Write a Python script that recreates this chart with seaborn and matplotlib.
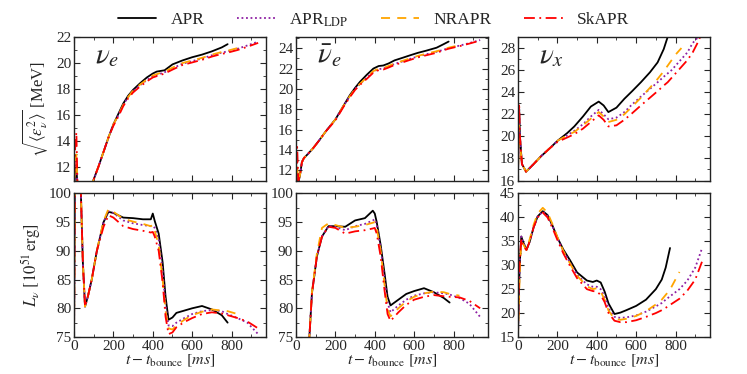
import numpy as np
import pandas as pd
import matplotlib
matplotlib.use("Agg")
import matplotlib.pyplot as plt
from matplotlib.ticker import MultipleLocator, AutoMinorLocator
import seaborn as sns

nan = np.nan
models = ["APR", "APR$_{\\mathrm{LDP}}$", "NRAPR", "SkAPR"]
colors = ["black", "#8E1FA3", "#FFA500", "#FF0000"]

# ---- top-left: nu_e rms energy ----
t_e1 = [0, 6, 12, 18, 30, 60, 98, 125, 150, 175, 200, 225, 250, 275, 300, 335, 370, 400, 420, 440,
        460, 500, 550, 600, 650, 700, 750, 780, 830, 880, 935]
e1_apr = [10, 11.8, 12.0, 10.5, 9.0, 9.5, 11.0, 12.1, 13.2, 14.3, 15.3, 16.1, 16.9, 17.5, 17.95, 18.45,
          18.9, 19.2, 19.35, 19.4, 19.45, 19.9, 20.2, 20.45, 20.65, 20.9, 21.2, 21.45, nan, nan, nan]
e1_ldp = [10, 12.0, 12.5, 10.5, 9.0, 9.5, 11.0, 12.1, 13.2, 14.3, 15.3, 16.0, 16.8, 17.4, 17.85, 18.3,
          18.7, 19.0, 19.1, 19.2, 19.3, 19.6, 19.95, 20.15, 20.35, 20.6, 20.8, 20.9, 21.1, 21.35, 21.65]
e1_nra = [10, 12.5, 13.0, 10.5, 9.0, 9.5, 11.0, 12.1, 13.2, 14.3, 15.3, 16.0, 16.8, 17.4, 17.9, 18.35,
          18.75, 19.05, 19.15, 19.25, 19.35, 19.65, 20.0, 20.2, 20.4, 20.65, 20.85, 20.95, 21.15, nan, nan]
e1_ska = [10, 13.5, 14.7, 10.5, 9.0, 9.5, 11.0, 12.1, 13.2, 14.3, 15.2, 15.9, 16.7, 17.3, 17.75, 18.2,
          18.6, 18.9, 19.0, 19.1, 19.2, 19.5, 19.85, 20.05, 20.25, 20.5, 20.7, 20.8, 21.0, 21.25, 21.55]

# ---- top-middle: anti nu_e rms energy ----
t_e2 = [0, 6, 12, 20, 30, 40, 60, 88, 120, 150, 200, 240, 274, 300, 325, 360, 393, 420, 443, 470, 500,
        540, 579, 620, 660, 714, 750, 775, 830, 880, 935]
e2_apr = [10.5, 11.2, 10.8, 11.5, 12.8, 13.2, 13.6, 14.2, 15.0, 15.8, 17.0, 18.3, 19.4, 20.1, 20.7, 21.4,
          22.0, 22.25, 22.3, 22.5, 22.8, 23.05, 23.3, 23.55, 23.75, 24.05, 24.4, 24.65, nan, nan, nan]
e2_ldp = [10.5, 12.0, 11.0, 11.5, 12.8, 13.2, 13.6, 14.2, 15.0, 15.8, 17.0, 18.3, 19.3, 20.0, 20.5, 21.1,
          21.7, 21.95, 22.0, 22.2, 22.45, 22.7, 22.95, 23.2, 23.4, 23.65, 23.85, 24.0, 24.25, 24.5, 24.8]
e2_nra = [10.5, 12.3, 11.0, 11.5, 12.8, 13.2, 13.6, 14.2, 15.0, 15.8, 17.0, 18.3, 19.3, 20.0, 20.5, 21.15,
          21.75, 22.0, 22.05, 22.25, 22.5, 22.75, 23.0, 23.25, 23.45, 23.7, 23.9, 24.05, 24.3, nan, nan]
e2_ska = [10.5, 14.3, 11.0, 11.5, 12.8, 13.2, 13.6, 14.2, 15.0, 15.8, 16.9, 18.2, 19.2, 19.9, 20.4, 21.0,
          21.6, 21.85, 21.9, 22.1, 22.35, 22.6, 22.85, 23.1, 23.3, 23.55, 23.8, 23.95, 24.2, 24.45, 24.75]

# ---- top-right: nu_x rms energy ----
t_e3 = [0, 3, 6, 10, 20, 41, 80, 117, 160, 201, 250, 286, 330, 370, 410, 435, 459, 500, 540, 580, 624,
        670, 709, 740, 760, 780, 800, 830, 860, 887, 910, 935]
e3_apr = [16, 20, 22.5, 20, 17.5, 16.8, 17.5, 18.2, 18.9, 19.6, 20.3, 20.9, 21.8, 22.7, 23.15, 22.8, 22.2,
          22.6, 23.4, 24.1, 24.9, 25.8, 26.7, 27.9, 29.0, 30.0, nan, nan, nan, nan, nan, nan]
e3_ldp = [16, 20, 22.5, 20, 17.5, 16.8, 17.5, 18.2, 18.9, 19.6, 20.1, 20.5, 21.1, 21.8, 22.4, 22.0, 21.55,
          21.7, 22.2, 22.9, 23.6, 24.3, 24.9, 25.4, 25.7, 26.0, 26.4, 27.0, 27.6, 28.45, 28.9, 29.5]
e3_nra = [16, 19, 21.0, 19.5, 17.5, 16.8, 17.5, 18.2, 18.9, 19.6, 20.1, 20.4, 21.0, 21.6, 22.2, 21.8, 21.3,
          21.5, 22.0, 22.7, 23.5, 24.4, 25.2, 25.9, 26.4, 26.9, 27.4, 28.0, nan, nan, nan, nan]
e3_ska = [16, 20.5, 23.0, 20, 17.5, 16.8, 17.5, 18.2, 18.9, 19.5, 19.9, 20.2, 20.7, 21.3, 21.9, 21.5, 20.9,
          21.0, 21.5, 22.1, 22.8, 23.5, 24.1, 24.6, 24.9, 25.3, 25.7, 26.3, 26.9, 27.6, 28.4, 29.4]

# ---- bottom-left: nu_e luminosity ----
t_l1 = [0, 4, 8, 25, 35, 45, 56, 70, 90, 116, 150, 175, 200, 250, 300, 350, 390, 400, 410, 430, 450, 465,
        480, 500, 520, 560, 600, 650, 700, 750, 780, 830, 880, 935]
l1_apr = [74, 100, 110, 110, 100, 88, 80.3, 82, 85, 90, 95, 96.8, 96.6, 95.8, 95.7, 95.5, 95.5, 96.5, 95.2,
          93, 88, 82, 78, 78.4, 79.2, 79.6, 80.0, 80.4, 79.8, 78.8, 77.5, nan, nan, nan]
l1_ldp = [74, 100, 110, 110, 100, 88, 80.3, 82, 85, 90, 95, 96.9, 96.6, 95.3, 94.8, 94.5, 94.3, 94.3, 94.0,
          92, 86.5, 80.5, 77, 76.9, 77.5, 78.3, 79.0, 79.5, 79.7, 79.5, 79.0, 78.3, 77.5, 75.5]
l1_nra = [74, 100, 110, 110, 100, 88, 80.3, 82, 85, 90, 95.2, 97.3, 96.8, 95.6, 95.1, 94.7, 94.3, 94.5, 93.5,
          91, 85, 79.5, 76.5, 76.3, 77.0, 78.0, 78.8, 79.4, 79.8, 79.6, 79.5, 79.0, nan, nan]
l1_ska = [74, 100, 110, 110, 100, 88, 80.3, 82, 85, 90, 94.2, 96.2, 95.8, 94.3, 93.8, 93.5, 93.2, 93.3, 92.5,
          90, 84.5, 78.5, 75.5, 75.8, 76.7, 77.6, 78.3, 79.0, 79.3, 79.1, 78.8, 78.3, 77.7, 76.5]

# ---- bottom-middle: anti nu_e luminosity ----
t_l2 = [0, 40, 68, 81, 106, 132, 165, 200, 250, 300, 350, 390, 400, 410, 430, 450, 465, 480, 520, 560, 600,
        650, 700, 750, 780, 830, 880, 935]
l2_apr = [60, 68, 75, 82.6, 89, 92.5, 94.3, 94.3, 94.2, 95.3, 95.7, 97.0, 96.5, 95.0, 91, 86, 82, 80.5,
          81.5, 82.5, 83.0, 83.5, 82.8, 81.8, 81.0, nan, nan, nan]
l2_ldp = [60, 68, 75, 82.6, 89, 92.5, 94.3, 94.2, 93.6, 94.3, 94.7, 95.3, 95.5, 94.5, 90.5, 85, 81, 79.3,
          80.5, 81.5, 82.2, 82.6, 82.8, 82.6, 82.4, 81.8, 80.8, 78.5]
l2_nra = [60, 68, 75, 82.8, 89.5, 94.0, 94.8, 94.5, 94.0, 94.2, 94.5, 94.9, 95.0, 94.0, 90, 84, 79.8, 78.6,
          80.0, 81.2, 82.0, 82.6, 82.9, 82.8, 82.5, 82.2, nan, nan]
l2_ska = [60, 68, 75, 82.6, 89, 92.5, 94.2, 94.0, 93.0, 93.4, 93.6, 93.9, 94.0, 93.0, 89, 83, 79, 77.8,
          79.3, 80.6, 81.5, 82.0, 82.3, 82.1, 82.0, 81.9, 81.3, 80.0]

# ---- bottom-right: nu_x luminosity ----
t_l3 = [0, 5, 10, 17, 25, 43, 60, 80, 100, 126, 150, 175, 201, 230, 265, 300, 350, 380, 400, 420, 440, 460,
        490, 520, 550, 600, 650, 700, 730, 750, 772, 820, 860, 900, 935]
l3_apr = [15, 25, 31, 36, 35, 33.2, 35, 38, 40.2, 41.3, 40.5, 38.3, 35.7, 33.3, 31, 28.5, 26.8, 26.5, 26.8,
          26.4, 24.5, 22, 19.8, 20.1, 20.6, 21.5, 22.8, 25.0, 27.0, 29.5, 33.6, nan, nan, nan, nan]
l3_ldp = [15, 25, 31, 36, 35, 33.2, 35, 38, 40.2, 41.2, 40.3, 38.2, 35.6, 33, 30.5, 28, 26.0, 25.5, 25.5,
          25.0, 23.5, 21, 19.2, 19.0, 19.1, 19.5, 20.3, 21.4, 22.1, 22.8, 23.5, 25.0, 26.8, 29.5, 33.6]
l3_nra = [15, 22, 30, 35, 34.5, 33.2, 35.5, 38.5, 40.8, 42.0, 41.0, 38.6, 35.8, 33, 30.3, 27.8, 25.6, 25.0,
          25.2, 24.5, 22.8, 20.5, 18.8, 18.6, 18.8, 19.4, 20.4, 21.8, 22.8, 23.8, 24.9, 28.6, nan, nan, nan]
l3_ska = [15, 28, 32, 35.5, 34, 33.2, 35, 38, 40.0, 41.0, 40.0, 37.8, 35.2, 32.5, 29.8, 27.3, 25.0, 24.6,
          24.5, 23.8, 22.3, 20.0, 18.4, 18.1, 18.1, 18.5, 19.2, 20.0, 20.6, 21.1, 21.7, 23.0, 24.7, 27.0, 30.8]

panels = [
    (t_e1, [e1_apr, e1_ldp, e1_nra, e1_ska], (11, 22), 2, r"$\nu_e$"),
    (t_e2, [e2_apr, e2_ldp, e2_nra, e2_ska], (11, 25.1), 2, r"$\bar{\nu}_e$"),
    (t_e3, [e3_apr, e3_ldp, e3_nra, e3_ska], (16, 29), 2, r"$\nu_x$"),
    (t_l1, [l1_apr, l1_ldp, l1_nra, l1_ska], (75, 100), 5, None),
    (t_l2, [l2_apr, l2_ldp, l2_nra, l2_ska], (75, 100), 5, None),
    (t_l3, [l3_apr, l3_ldp, l3_nra, l3_ska], (15, 45), 5, None),
]

sns.set_theme(style="ticks", rc={
    "xtick.direction": "in", "ytick.direction": "in",
    "xtick.top": True, "ytick.right": True,
})
plt.rcParams["font.family"] = ["Liberation Serif", "DejaVu Serif"]
plt.rcParams["mathtext.fontset"] = "stix"
plt.rcParams["axes.linewidth"] = 1.0
plt.rcParams["axes.edgecolor"] = "#222222"

fig, axes = plt.subplots(2, 3, figsize=(7.47, 3.74), dpi=100)
fig.subplots_adjust(left=74/747, right=710/747, top=1-37/374, bottom=1-337/374,
                    wspace=0.156, hspace=0.09)

palette = dict(zip(models, colors))
dashes = dict(zip(models, ["", (1, 1.5), (5, 4), (6, 2.5, 1, 2.5)]))

for i, (ax, (t, series, ylim, major, label)) in enumerate(zip(axes.flat, panels)):
    rows = []
    for m, vals in zip(models, series):
        for tt, v in zip(t, vals):
            rows.append({"t": tt, "v": v, "model": m})
    df = pd.DataFrame(rows)
    sns.lineplot(data=df, x="t", y="v", hue="model", style="model", palette=palette,
                 dashes=dashes, hue_order=models, style_order=models, ax=ax,
                 sort=False, estimator=None, linewidth=1.3, legend=(i == 0))
    ax.set_xlim(0, 975)
    ax.set_ylim(*ylim)
    ax.xaxis.set_major_locator(MultipleLocator(200))
    ax.xaxis.set_minor_locator(MultipleLocator(100))
    ax.yaxis.set_major_locator(MultipleLocator(major))
    ax.yaxis.set_minor_locator(AutoMinorLocator(2))
    ax.tick_params(which="major", length=4, width=0.8, labelsize=11, pad=2,
                   top=True, right=True, direction="in")
    ax.tick_params(which="minor", length=2, width=0.6, top=True, right=True, direction="in")
    ax.set_xlabel("")
    ax.set_ylabel("")
    if i < 3:
        ax.tick_params(labelbottom=False)
    else:
        ax.set_xlabel(r"$t - t_{\mathrm{bounce}}\ [ms]$", fontsize=11.5, labelpad=0)
    if label:
        ax.text(0.11, 0.87, label, transform=ax.transAxes, fontsize=21,
                ha="left", va="center")

axes[0, 0].set_ylabel(r"$\sqrt{\langle\epsilon_\nu^2\rangle}$ [MeV]", fontsize=12, labelpad=4)
axes[1, 0].set_ylabel(r"$L_\nu\ [10^{51}\,\mathrm{erg}]$", fontsize=12, labelpad=4)

handles, labels = axes[0, 0].get_legend_handles_labels()
axes[0, 0].get_legend().remove()
fig.legend(handles, labels, loc="center", bbox_to_anchor=(0.5, 1 - 20/374), ncol=4,
           frameon=False, fontsize=12.5, handlelength=2.2, handletextpad=0.8,
           columnspacing=1.9)

fig.savefig("out.png", dpi=100)
